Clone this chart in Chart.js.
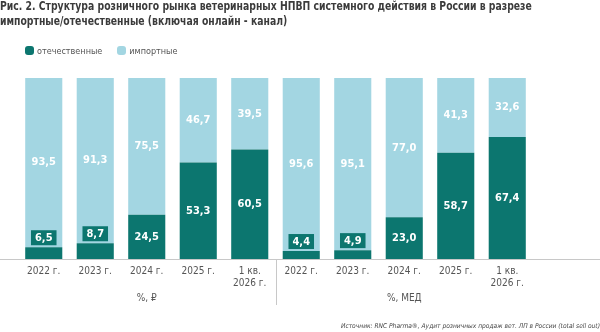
<!DOCTYPE html>
<html>
<head>
<meta charset="utf-8">
<script src="https://cdn.jsdelivr.net/npm/chart.js@4.4.1/dist/chart.umd.min.js"></script>
<style>
body{margin:0;background:#fff;}
#wrap{position:relative;width:600px;height:332px;overflow:hidden;font-family:"Liberation Sans Narrow","DejaVu Sans Condensed",sans-serif;}
#title{position:absolute;left:0;top:-1px;font-weight:bold;font-size:12.5px;line-height:14.5px;color:#3b3b3b;white-space:nowrap;transform:scaleX(0.825);transform-origin:0 0;}
#legend{position:absolute;left:25px;top:45px;font-size:9px;line-height:12px;color:#555;white-space:nowrap;}
#legend span.item{display:inline-block;margin-right:15px;}
#legend i{display:inline-block;width:9px;height:9px;border-radius:3px;vertical-align:-1px;margin-right:3px;}
#source{position:absolute;right:0;top:322px;font-size:6.6px;font-style:italic;color:#444;white-space:nowrap;}
canvas{position:absolute;left:0;top:0;}
</style>
</head>
<body>
<div id="wrap">
  <canvas id="myCanvas" width="600" height="332"></canvas>
  <div id="title">Рис. 2. Структура розничного рынка ветеринарных НПВП системного действия в России в разрезе<br>импортные/отечественные (включая онлайн - канал)</div>
  <div id="legend"></div>
  <div id="source">Источник: RNC Pharma®, Аудит розничных продаж вет. ЛП в России (total sell out)</div>
</div>
<script>
'use strict';

var categories = ['2022 г.', '2023 г.', '2024 г.', '2025 г.', ['1 кв.', '2026 г.'],
                  '2022 г.', '2023 г.', '2024 г.', '2025 г.', ['1 кв.', '2026 г.']];
var domestic = [6.5, 8.7, 24.5, 53.3, 60.5, 4.4, 4.9, 23.0, 58.7, 67.4];
var imported = [93.5, 91.3, 75.5, 46.7, 39.5, 95.6, 95.1, 77.0, 41.3, 32.6];
var seriesNames = ['отечественные', 'импортные'];
var groupLabels = ['%, ₽', '%, МЕД'];
var groupCenters = [2, 7];

var darkTeal = '#0c766f';
var lightBlue = '#a3d6e2';
var fontFam = '"Liberation Sans Narrow","DejaVu Sans Condensed",sans-serif';

// html legend
var lg = document.getElementById('legend');
[darkTeal, lightBlue].forEach(function(c, i){
    var s = document.createElement('span');
    s.className = 'item';
    s.innerHTML = '<i style="background:' + c + '"></i>' + seriesNames[i];
    lg.appendChild(s);
});

function fmt(v){ return v.toFixed(1).replace('.', ','); }

var overlay = {
    id: 'overlay',
    afterDatasetsDraw: function(chart){
        var ctx = chart.ctx, area = chart.chartArea, xs = chart.scales.x;
        ctx.save();
        ctx.strokeStyle = '#c8c8c8';
        ctx.lineWidth = 1;
        ctx.beginPath();
        ctx.moveTo(0, area.bottom + 0.5);
        ctx.lineTo(chart.width, area.bottom + 0.5);
        var sx = Math.round((xs.getPixelForValue(4) + xs.getPixelForValue(5)) / 2) + 0.5;
        ctx.moveTo(sx, area.bottom);
        ctx.lineTo(sx, area.bottom + 46);
        ctx.stroke();

        ctx.font = 'bold 11px ' + fontFam;
        ctx.textAlign = 'center';
        ctx.textBaseline = 'middle';
        chart.data.datasets.forEach(function(ds, d){
            chart.getDatasetMeta(d).data.forEach(function(bar, i){
                var txt = fmt(ds.data[i]);
                var h = bar.base - bar.y;
                if (h < 20) {
                    var w = ctx.measureText(txt).width + 8;
                    var bh = 15;
                    ctx.fillStyle = darkTeal;
                    ctx.fillRect(bar.x - w / 2, bar.y - 2 - bh, w, bh);
                    ctx.fillStyle = '#fff';
                    ctx.fillText(txt, bar.x, bar.y - 2 - bh / 2 + 0.5);
                } else {
                    ctx.fillStyle = '#fff';
                    ctx.fillText(txt, bar.x, (bar.y + bar.base) / 2);
                }
            });
        });

        ctx.font = '10px ' + fontFam;
        ctx.fillStyle = '#555';
        groupLabels.forEach(function(g, i){
            ctx.fillText(g, xs.getPixelForValue(groupCenters[i]), 298);
        });
        ctx.restore();
    }
};

var ctx = document.getElementById('myCanvas').getContext('2d');
var myChart = new Chart(ctx, {
    type: 'bar',
    data: {
        labels: categories,
        datasets: [
            { label: seriesNames[0], data: domestic, backgroundColor: darkTeal },
            { label: seriesNames[1], data: imported, backgroundColor: lightBlue }
        ]
    },
    options: {
        responsive: false,
        animation: false,
        barPercentage: 0.72,
        categoryPercentage: 1,
        layout: { padding: { top: 78, left: 18, right: 67, bottom: 37 } },
        plugins: { legend: { display: false }, tooltip: { enabled: false } },
        scales: {
            x: {
                stacked: true,
                grid: { display: false, drawTicks: false },
                border: { display: false },
                ticks: { padding: 6, color: '#555', font: { family: fontFam, size: 10 }, maxRotation: 0, autoSkip: false }
            },
            y: {
                stacked: true,
                display: false,
                min: 0,
                max: 100
            }
        }
    },
    plugins: [overlay]
});
</script>
</body>
</html>
